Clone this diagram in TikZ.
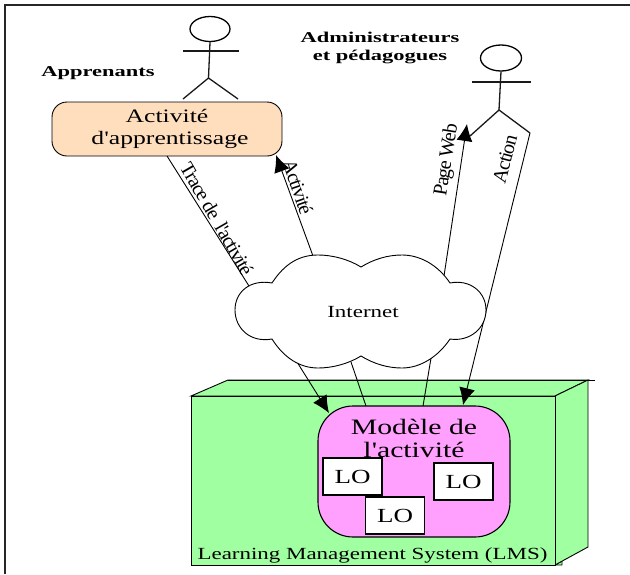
\documentclass[tikz,border=0pt]{standalone}
\usepackage{fontspec}
\setmainfont[FakeStretch=1.35,Ligatures=TeXOff]{Liberation Serif}
\newfontfamily\boldlabel[FakeStretch=1.5]{Liberation Serif Bold}
\newfontfamily\arrowlabel[LetterSpace=-6]{Liberation Serif}
\usepackage{tikz}
\usetikzlibrary{arrows.meta,shapes.geometric}
\definecolor{peach}{RGB}{255,222,190}
\definecolor{lmsgreen}{RGB}{160,255,160}
\definecolor{modelpink}{RGB}{255,160,255}

\begin{document}
\begin{tikzpicture}[x=1pt,y=-1pt]
\useasboundingbox (0,0) rectangle (630,574);
%%%%%%%%%%%%%%%%%%%%%%%%%%%%%%%%%%%%%%%%%%%%%%%%%%%%%%%%%%%%%%
%FRAME
\coordinate (frameBot) at (5,574);
\coordinate (frameCorner) at (5,5);
\coordinate (frameRight) at (630,5);
\draw[line width=2.4pt,color=black!85] (frameBot) -- (frameCorner) -- (frameRight);

%%%%%%%%%%%%%%%%%%%%%%%%%%%%%%%%%%%%%%%%%%%%%%%%%%%%%%%%%%%%%%
%styles
\tikzstyle{head}=[draw,ellipse,inner sep=0pt,line width=1.3pt]
\tikzstyle{limb}=[line width=1.3pt,color=black!90]
\tikzstyle{lobox}=[draw,fill=white,line width=1.3pt,minimum width=59pt,minimum height=37pt,inner sep=0pt,font=\fontsize{20}{22}\selectfont]
\tikzstyle{boldtext}=[align=center,font=\boldlabel\fontsize{15}{18}\selectfont]
\tikzstyle{rottext}=[inner sep=0pt,font=\arrowlabel\fontsize{20}{22}\selectfont]
\tikzstyle{link}=[line width=0.9pt]
\tikzstyle{bigarrow}=[line width=0.9pt,->,>={Latex[length=17pt,width=16pt]}]

%%%%%%%%%%%%%%%%%%%%%%%%%%%%%%%%%%%%%%%%%%%%%%%%%%%%%%%%%%%%%%
%ACTORS
%1
\node[head,minimum width=40pt,minimum height=25pt] (head1) at (210,29) {};
\coordinate (hip1) at (208.5,78);
\coordinate (armL1) at (183,51);
\coordinate (armR1) at (239,51);
\coordinate (legL1) at (183,99);
\coordinate (legR1) at (238,99);
\draw[limb] (head1.south) -- (hip1);
\draw[limb] (armL1) -- (armR1);
\draw[limb] (legL1) -- (hip1) -- (legR1);
%2
\node[head,minimum width=41pt,minimum height=26pt] (head2) at (501,58) {};
\coordinate (hip2) at (499,110);
\coordinate (armL2) at (472,82);
\coordinate (armR2) at (531,82);
\coordinate (legL2) at (470,136);
\coordinate (legR2) at (530,133);
\draw[limb] (head2.south) -- (hip2);
\draw[limb] (armL2) -- (armR2);
\draw[limb] (legL2) -- (hip2) -- (legR2);

\node[boldtext] (learners) at (98,73) {Apprenants};
\node[boldtext] (admins) at (380,48) {Administrateurs\\et pédagogues};

%%%%%%%%%%%%%%%%%%%%%%%%%%%%%%%%%%%%%%%%%%%%%%%%%%%%%%%%%%%%%%
%ACTIVITY
\node[draw,fill=peach,rounded corners=15pt,line width=0.9pt,minimum width=230pt,minimum height=54pt,align=center,font=\fontsize{19}{22}\selectfont] (activity) at (167,129) {Activité\\\hspace*{6pt}d'apprentissage};

%%%%%%%%%%%%%%%%%%%%%%%%%%%%%%%%%%%%%%%%%%%%%%%%%%%%%%%%%%%%%%
%LMS
\coordinate (lmsA) at (191,396);
\coordinate (lmsB) at (555,396);
\coordinate (lmsC) at (555,565);
\coordinate (lmsD) at (191,565);
\coordinate (lmsE) at (228,380);
\coordinate (lmsF) at (588,380);
\coordinate (lmsG) at (588,547);
\coordinate (lmsH) at (595,380);
\coordinate (lmsI) at (562,565);
\coordinate (lmsJ) at (562,561);
\draw[fill=lmsgreen,line width=0.9pt] (lmsC) -- (lmsI) -- (lmsJ) -- cycle;
\draw[fill=lmsgreen,line width=0.9pt] (lmsA) -- (lmsE) -- (lmsF) -- (lmsB) -- cycle;
\draw[fill=lmsgreen,line width=0.9pt] (lmsB) -- (lmsF) -- (lmsG) -- (lmsC) -- cycle;
\draw[fill=lmsgreen,line width=0.9pt] (lmsA) -- (lmsB) -- (lmsC) -- (lmsD) -- cycle;
\draw[line width=0.9pt] (lmsE) -- (lmsH);
\node[font=\fontsize{17}{20}\selectfont] (lms) at (372.5,555) {Learning Management System (LMS)};

%model
\node[draw,fill=modelpink,rounded corners=35pt,line width=1.1pt,minimum width=192pt,minimum height=131pt] (model) at (414,471.5) {};
\node[align=center,font=\fontsize{22}{23}\selectfont] (modeltext) at (414,438.5) {Modèle de\\l'activité};
\node[lobox] (lo1) at (352.5,476.5) {LO};
\node[lobox] (lo2) at (463.5,481.5) {LO};
\node[lobox] (lo3) at (395,515.5) {LO};

%%%%%%%%%%%%%%%%%%%%%%%%%%%%%%%%%%%%%%%%%%%%%%%%%%%%%%%%%%%%%%
%ARROWS
\coordinate (traceTop) at (167,156);
\coordinate (traceBot) at (249,286);
\coordinate (activityBot) at (313,256);
\coordinate (activityTip) at (276,155);
\coordinate (webBot) at (444,276);
\coordinate (webTip) at (467,124);
\coordinate (actionTip) at (463,405);
\coordinate (cloudL) at (297,362);
\coordinate (modelL) at (329,413);
\coordinate (cloudM) at (351,362);
\coordinate (modelM) at (366,406);
\coordinate (cloudR) at (431,358);
\coordinate (modelR) at (423,406);

%up
\draw[link] (traceTop) -- (traceBot);
\draw[bigarrow] (activityBot) -- (activityTip);
\draw[bigarrow] (webBot) -- (webTip);
\draw[bigarrow] (legR2) -- (actionTip);
%down
\draw[bigarrow] (cloudL) -- (modelL);
\draw[link] (cloudM) -- (modelM);
\draw[link] (cloudR) -- (modelR);

\node[rottext,rotate=-60] (tracelabel) at (217,219) {Trace de\ \ l'activité};
\node[rottext,rotate=-71] (activitylabel) at (298,187) {Activité};
\node[rottext,rotate=81] (weblabel) at (447,160) {Page Web};
\node[rottext,rotate=75] (actionlabel) at (505,159) {Action};

%%%%%%%%%%%%%%%%%%%%%%%%%%%%%%%%%%%%%%%%%%%%%%%%%%%%%%%%%%%%%%
%CLOUD
\draw[fill=white,line width=0.9pt] (272,283) .. controls (285,263) and (300,255) .. (318,255)
  .. controls (332,255) and (348,259) .. (361,267)
  .. controls (374,259) and (388,255) .. (402,255)
  .. controls (420,255) and (438,265) .. (450,283)
  .. controls (470,279) and (486,292) .. (486,310)
  .. controls (486,328) and (470,342) .. (450,339)
  .. controls (438,357) and (420,368) .. (402,368)
  .. controls (388,368) and (374,364) .. (361,356)
  .. controls (348,364) and (332,368) .. (318,368)
  .. controls (300,368) and (284,358) .. (272,339)
  .. controls (250,343) and (235,328) .. (235,310)
  .. controls (235,292) and (250,279) .. (272,283) -- cycle;
\node[font=\fontsize{17}{20}\selectfont] (internet) at (363,312.5) {Internet};
\end{tikzpicture}
\end{document}
